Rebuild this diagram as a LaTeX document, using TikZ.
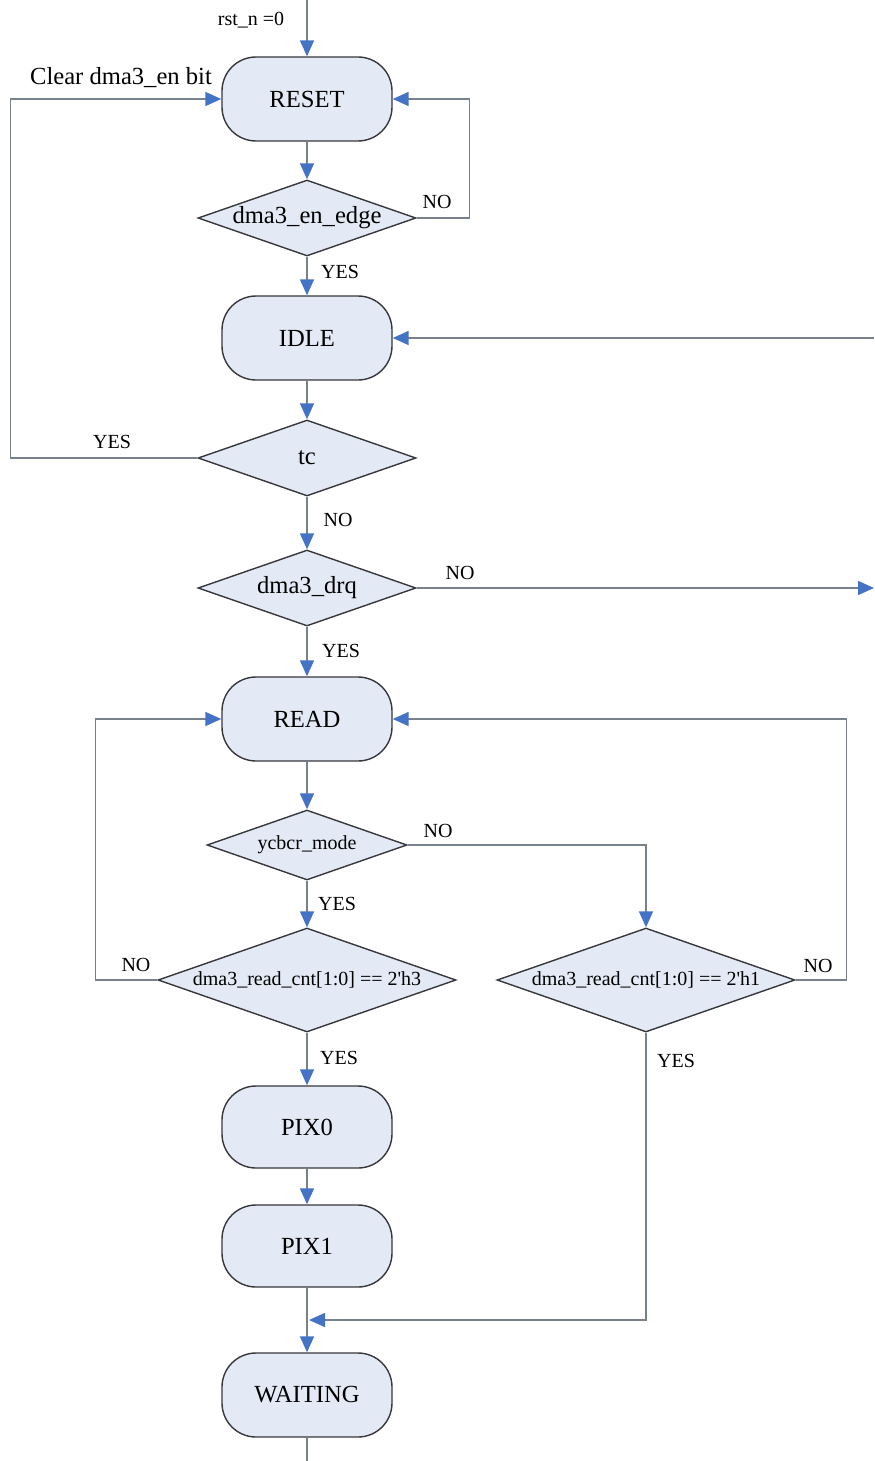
\documentclass[tikz,border=0pt]{standalone}
\usepackage{fontspec}
\setmainfont{Liberation Serif}
\usetikzlibrary{shapes.geometric,arrows.meta}

\definecolor{boxfill}{RGB}{228,234,245}
\definecolor{boxline}{RGB}{55,55,60}
\definecolor{wire}{RGB}{120,128,140}
\definecolor{tipblue}{RGB}{68,114,196}

\tikzset{
  state/.style={draw=boxline, fill=boxfill, line width=0.7pt, rounded corners=17pt,
    minimum width=85pt, minimum height=42pt, inner sep=0pt,
    font=\fontsize{12.3}{14}\selectfont},
  test/.style={draw=boxline, fill=boxfill, line width=0.7pt, diamond, inner sep=0pt},
  bigtxt/.style={font=\fontsize{12.3}{14}\selectfont},
  smalltxt/.style={font=\fontsize{10}{12}\selectfont},
  flow/.style={draw=wire, line width=0.75pt,
    -{Triangle[length=8pt,width=7pt,color=tipblue,fill=tipblue]}},
  wire/.style={draw=wire, line width=0.75pt},
  lbl/.style={font=\fontsize{10}{12}\selectfont, inner sep=0pt},
}

\begin{document}
\begin{tikzpicture}[x=0.5pt,y=-0.5pt]
  \useasboundingbox (0,0) rectangle (874,1461);

  % states
  \node[state] (reset)   at (307,99)   {RESET};
  \node[state] (idle)    at (307,338)  {IDLE};
  \node[state] (read)    at (307,719)  {READ};
  \node[state, minimum height=41pt] (pix0) at (307,1127) {PIX0};
  \node[state, minimum height=41pt] (pix1) at (307,1246) {PIX1};
  \node[state] (waiting) at (307,1395) {WAITING};

  % decisions
  \node[test, bigtxt, minimum width=109pt, minimum height=38pt] (en)  at (307,218) {\makebox[0pt]{dma3\_en\_edge}};
  \node[test, bigtxt, minimum width=109pt, minimum height=38pt] (tc)  at (307,458) {\makebox[0pt]{tc}};
  \node[test, bigtxt, minimum width=109pt, minimum height=38pt] (drq) at (307,588) {\makebox[0pt]{dma3\_drq}};
  \node[test, smalltxt, minimum width=100pt, minimum height=35pt] (ycb) at (307,845) {\makebox[0pt]{ycbcr\_mode}};
  \node[test, smalltxt, minimum width=149pt, minimum height=52pt] (h3) at (307,980) {\makebox[0pt]{dma3\_read\_cnt[1:0] == 2\textquotesingle h3}};
  \node[test, smalltxt, minimum width=149pt, minimum height=52pt] (h1) at (646,980) {\makebox[0pt]{dma3\_read\_cnt[1:0] == 2\textquotesingle h1}};

  % free ends
  \coordinate (start) at (307,0);
  \coordinate (back)  at (874,338);
  \coordinate (away)  at (874,588);
  \coordinate (join)  at (309,1320);
  \coordinate (tail)  at (307,1461);

  % connectors
  \draw[flow] (start) -- (reset.north);
  \draw[flow] (reset.south) -- (en.north);
  \draw[flow] (en.east) -- ++(53,0) |- (reset.east);
  \draw[flow] (en.south) -- (idle.north);
  \draw[flow] (back) -- (idle.east);
  \draw[flow] (idle.south) -- (tc.north);
  \draw[flow] (tc.west) -- ++(-187,0) |- (reset.west);
  \draw[flow] (tc.south) -- (drq.north);
  \draw[flow] (drq.east) -- (away);
  \draw[flow] (drq.south) -- (read.north);
  \draw[flow] (read.south) -- (ycb.north);
  \draw[flow] (ycb.east) -| (h1.north);
  \draw[flow] (ycb.south) -- (h3.north);
  \draw[flow] (h3.west) -- ++(-62,0) |- (read.west);
  \draw[flow] (h1.east) -- ++(51,0) |- (read.east);
  \draw[flow] (h3.south) -- (pix0.north);
  \draw[flow] (pix0.south) -- (pix1.north);
  \draw[flow] (h1.south) |- (join);
  \draw[flow] (pix1.south) -- (waiting.north);
  \draw[wire] (waiting.south) -- (tail);

  % texts
  \node[lbl] (rst) at (251,20) {rst\_n =0};
  \node[lbl, bigtxt] (clr) at (121,78) {Clear dma3\_en bit};
  \node[lbl] (l1) at (437,202) {NO};
  \node[lbl] (l2) at (340,272) {YES};
  \node[lbl] (l3) at (112,442) {YES};
  \node[lbl] (l4) at (338,520) {NO};
  \node[lbl] (l5) at (460,573) {NO};
  \node[lbl] (l6) at (341,651) {YES};
  \node[lbl] (l7) at (438,831) {NO};
  \node[lbl] (l8) at (337,904) {YES};
  \node[lbl] (l9) at (136,965) {NO};
  \node[lbl] (l10) at (818,966) {NO};
  \node[lbl] (l11) at (339,1058) {YES};
  \node[lbl] (l12) at (676,1061) {YES};
\end{tikzpicture}
\end{document}
